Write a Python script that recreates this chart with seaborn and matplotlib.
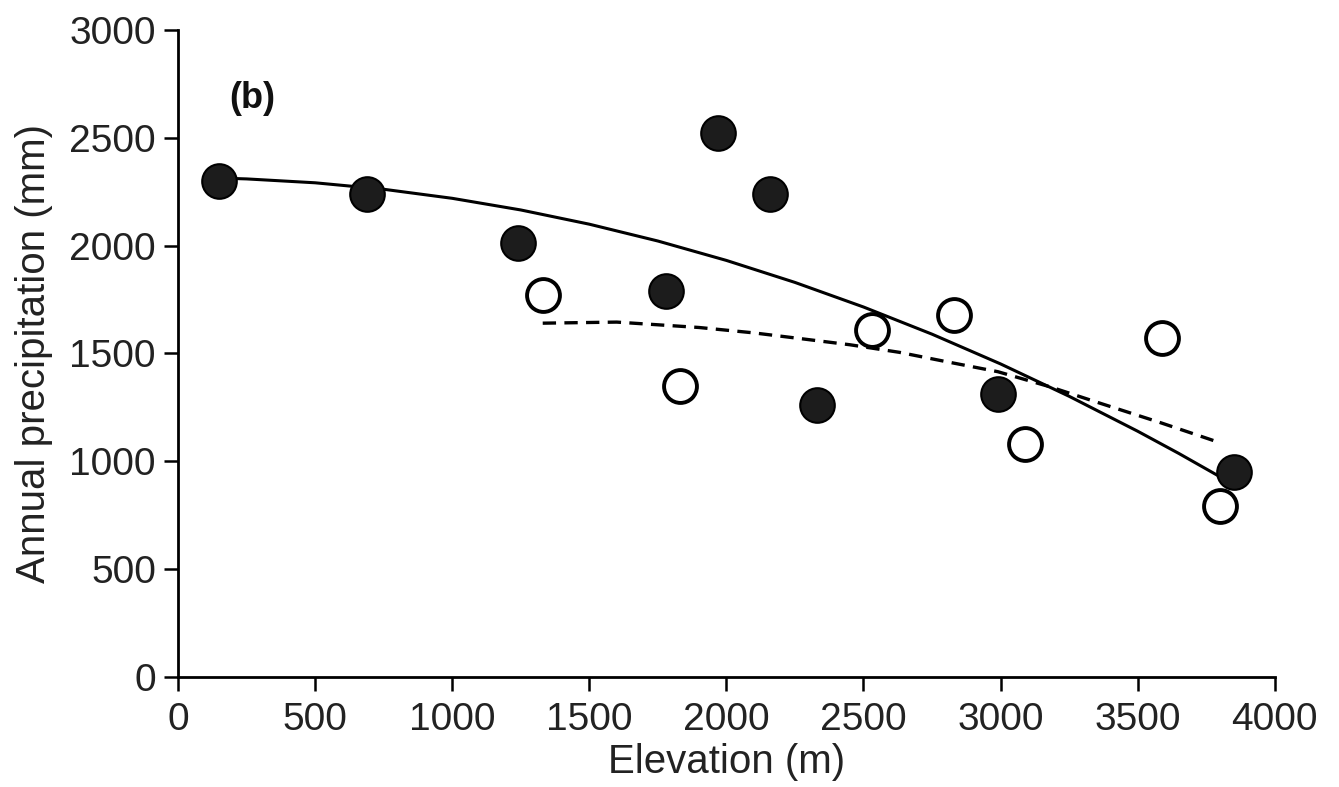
import numpy as np
import pandas as pd
import matplotlib
matplotlib.use("Agg")
import matplotlib.pyplot as plt
import seaborn as sns

# Data
filled_elev = [150, 690, 1240, 1780, 1970, 2160, 2330, 2990, 3850]
filled_prec = [2300, 2240, 2010, 1790, 2520, 2240, 1260, 1310, 950]
open_elev = [1330, 1830, 2530, 2830, 3090, 3590, 3800]
open_prec = [1770, 1350, 1610, 1680, 1080, 1570, 790]

solid_x = [150, 250, 500, 750, 1000, 1250, 1500, 1750, 2000, 2250, 2500,
           2750, 3000, 3250, 3500, 3650, 3850]
solid_y = [2313, 2309, 2291, 2261, 2219, 2165, 2099, 2021, 1931, 1829, 1715,
           1589, 1451, 1301, 1139, 1036, 892]
dash_x = [1330, 1600, 1900, 2100, 2260, 2450, 2630, 2800, 2990, 3180, 3360,
          3580, 3790]
dash_y = [1640, 1645, 1620, 1595, 1570, 1540, 1505, 1462, 1415, 1345, 1270,
          1180, 1090]

x_ticks = [0, 500, 1000, 1500, 2000, 2500, 3000, 3500, 4000]
y_ticks = [0, 500, 1000, 1500, 2000, 2500, 3000]

sns.set_theme(style="ticks")
plt.rcParams['font.family'] = ['Liberation Sans', 'DejaVu Sans']

fig = plt.figure(figsize=(13.39, 7.87), dpi=100)
ax = fig.add_axes([0.133, 0.140, 0.819, 0.822])

solid_df = pd.DataFrame({"x": solid_x, "y": solid_y})
dash_df = pd.DataFrame({"x": dash_x, "y": dash_y})
sns.lineplot(data=solid_df, x="x", y="y", ax=ax, color="black", lw=2.2, sort=True)
sns.lineplot(data=dash_df, x="x", y="y", ax=ax, color="black", lw=2.4, sort=True)
ax.lines[-1].set_dashes([4, 2.5])

fdf = pd.DataFrame({"x": filled_elev, "y": filled_prec})
odf = pd.DataFrame({"x": open_elev, "y": open_prec})
sns.scatterplot(data=odf, x="x", y="y", ax=ax, s=560, facecolor="white",
                edgecolor="black", linewidth=2.8, zorder=3)
sns.scatterplot(data=fdf, x="x", y="y", ax=ax, s=620, color="#1c1c1c",
                edgecolor="black", linewidth=1.5, zorder=4)

ax.set_xlim(0, 4000)
ax.set_ylim(0, 3000)
ax.set_xticks(x_ticks)
ax.set_yticks(y_ticks)
ax.tick_params(axis="both", labelsize=28, length=10, width=1.8, color="black",
               labelcolor="#222222")
ax.tick_params(axis="x", pad=8)
ax.tick_params(axis="y", pad=6)
for s in ["top", "right"]:
    ax.spines[s].set_visible(False)
for s in ["left", "bottom"]:
    ax.spines[s].set_linewidth(2.0)
    ax.spines[s].set_color("black")

ax.set_xlabel("Elevation (m)", fontsize=29, color="#222222", labelpad=4)
ax.set_ylabel("Annual precipitation (mm)", fontsize=29, color="#222222")
ax.yaxis.set_label_coords(-0.114, 0.5)
ax.text(270, 2680, "(b)", fontsize=26, fontweight="bold", ha="center", va="center",
        color="#111111")

fig.savefig("out.png", dpi=100)
